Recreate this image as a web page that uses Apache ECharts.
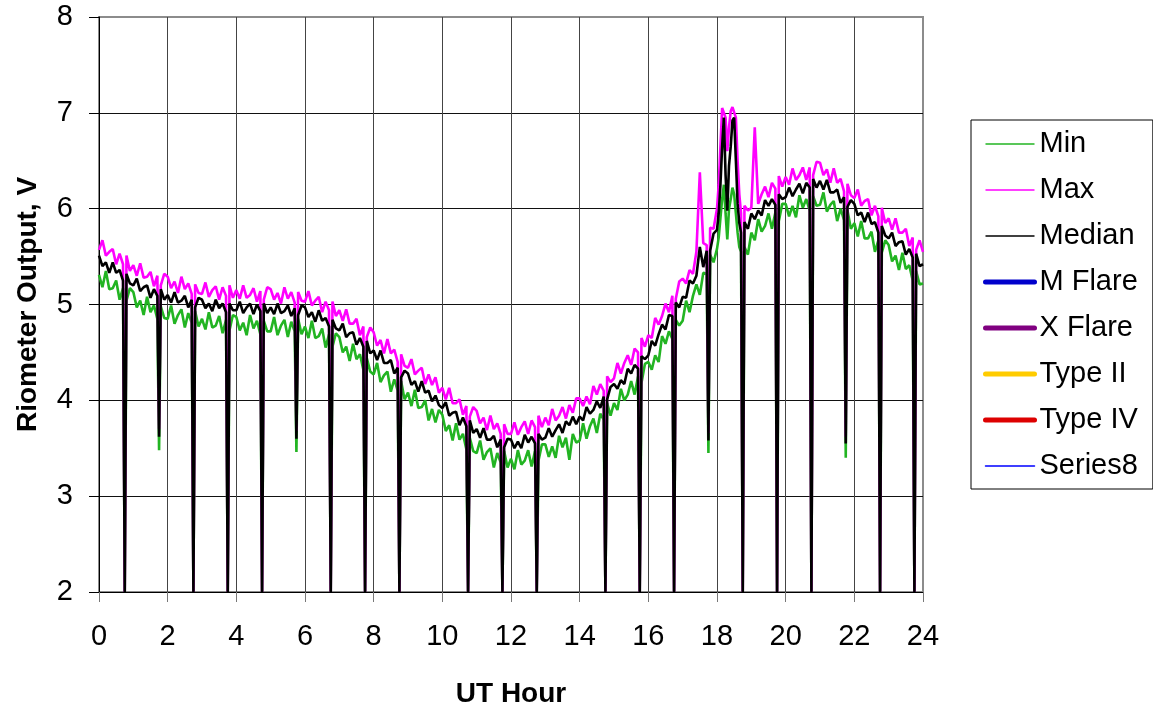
<!DOCTYPE html>
<html>
<head>
<meta charset="utf-8">
<script src="https://cdn.jsdelivr.net/npm/echarts@6/dist/echarts.min.js"></script>
<style>
html,body{margin:0;padding:0;background:#fff;}
#chart{width:1153px;height:713px;}
</style>
</head>
<body>
<div id="chart"></div>
<script>
// Regular samples every 0.1 h from 0.0 to 24.0 (241 values each)
const hourStep = 0.1;
const medianVals = [
5.51,5.40,5.44,5.33,5.44,5.33,5.36,5.25,5.32,5.22,
5.20,5.27,5.14,5.18,5.20,5.07,5.16,5.09,5.16,5.05,
5.10,5.02,5.13,5.02,5.04,5.09,4.97,5.05,4.97,5.07,
5.05,4.96,5.01,4.93,5.05,4.96,5.01,4.92,5.01,4.94,
4.94,5.03,4.91,4.97,5.01,4.90,5.00,4.93,5.01,4.91,
4.97,4.90,5.01,4.91,4.93,4.99,4.88,4.96,4.89,4.99,
4.97,4.87,4.92,4.82,4.94,4.83,4.86,4.77,4.84,4.75,
4.73,4.80,4.66,4.70,4.71,4.58,4.65,4.56,4.62,4.49,
4.52,4.42,4.52,4.39,4.39,4.42,4.28,4.34,4.24,4.31,
4.28,4.16,4.20,4.09,4.20,4.08,4.10,3.99,4.05,3.95,
3.92,3.98,3.84,3.87,3.88,3.74,3.82,3.73,3.79,3.66,
3.70,3.61,3.71,3.59,3.59,3.63,3.51,3.59,3.51,3.60,
3.59,3.50,3.57,3.50,3.64,3.56,3.62,3.55,3.65,3.59,
3.61,3.71,3.62,3.69,3.75,3.66,3.78,3.74,3.83,3.75,
3.83,3.79,3.93,3.86,3.90,3.99,3.92,4.04,4.01,4.14,
4.17,4.12,4.21,4.17,4.33,4.28,4.37,4.33,4.46,4.43,
4.47,4.62,4.57,4.69,4.79,4.74,4.89,4.88,5.02,4.97,
5.08,5.07,5.25,5.22,5.30,5.60,5.39,5.56,5.56,5.74,
5.78,6.25,6.95,5.98,6.65,6.95,6.05,5.75,5.86,5.79,
5.95,5.89,5.98,5.93,6.09,6.03,6.10,6.04,6.15,6.10,
6.12,6.22,6.13,6.20,6.26,6.16,6.27,6.22,6.31,6.22,
6.29,6.20,6.30,6.17,6.17,6.20,6.06,6.12,6.02,6.09,
6.05,5.93,5.96,5.86,5.96,5.84,5.86,5.75,5.82,5.72,
5.69,5.75,5.61,5.65,5.66,5.52,5.58,5.49,5.53,5.40,
5.42];
const maxVals = [
5.57,5.67,5.51,5.55,5.58,5.42,5.53,5.42,5.51,5.35,
5.41,5.30,5.43,5.28,5.29,5.34,5.19,5.30,5.20,5.32,
5.29,5.17,5.24,5.12,5.29,5.16,5.22,5.11,5.21,5.12,
5.11,5.23,5.08,5.15,5.19,5.05,5.18,5.09,5.20,5.07,
5.15,5.06,5.20,5.07,5.10,5.17,5.03,5.14,5.05,5.18,
5.16,5.05,5.12,5.01,5.18,5.06,5.13,5.02,5.13,5.04,
5.03,5.14,4.99,5.04,5.08,4.92,5.03,4.94,5.03,4.88,
4.94,4.83,4.95,4.80,4.80,4.85,4.68,4.77,4.66,4.76,
4.71,4.57,4.63,4.49,4.64,4.49,4.53,4.40,4.48,4.36,
4.34,4.43,4.27,4.31,4.34,4.17,4.27,4.16,4.24,4.08,
4.13,4.01,4.13,3.97,3.97,4.01,3.85,3.94,3.83,3.93,
3.89,3.76,3.82,3.69,3.84,3.70,3.76,3.65,3.75,3.65,
3.65,3.77,3.64,3.72,3.78,3.65,3.79,3.72,3.84,3.72,
3.82,3.74,3.91,3.79,3.84,3.93,3.81,3.95,3.87,4.02,
4.02,3.94,4.04,3.96,4.15,4.06,4.17,4.10,4.25,4.19,
4.23,4.39,4.28,4.39,4.47,4.37,4.54,4.50,4.65,4.56,
4.68,4.65,4.86,4.79,4.88,5.01,4.92,5.09,5.06,5.24,
5.27,5.22,5.36,5.32,5.55,6.38,5.64,5.62,5.80,5.79,
6.00,6.65,7.07,6.60,7.02,7.05,6.50,5.95,6.03,5.98,
6.01,6.85,6.05,6.15,6.23,6.12,6.27,6.21,6.34,6.23,
6.33,6.25,6.42,6.30,6.35,6.43,6.30,6.43,6.35,6.49,
6.48,6.35,6.41,6.27,6.42,6.27,6.31,6.18,6.26,6.14,
6.11,6.20,6.03,6.08,6.10,5.93,6.03,5.92,6.01,5.85,
5.90,5.78,5.90,5.75,5.75,5.79,5.61,5.70,5.57,5.67,
5.55];
const minVals = [
5.31,5.18,5.35,5.16,5.17,5.25,5.05,5.17,5.04,5.17,
5.13,4.97,5.04,4.89,5.08,4.92,4.99,4.85,4.98,4.86,
4.85,4.99,4.80,4.89,4.95,4.76,4.91,4.81,4.93,4.77,
4.85,4.74,4.92,4.76,4.78,4.88,4.70,4.84,4.73,4.89,
4.87,4.73,4.81,4.68,4.89,4.75,4.83,4.69,4.83,4.72,
4.72,4.87,4.68,4.78,4.84,4.66,4.82,4.72,4.85,4.69,
4.77,4.65,4.83,4.65,4.67,4.75,4.55,4.69,4.56,4.70,
4.66,4.50,4.56,4.41,4.59,4.43,4.48,4.32,4.44,4.30,
4.27,4.39,4.19,4.26,4.30,4.09,4.22,4.10,4.20,4.01,
4.08,3.94,4.11,3.92,3.93,4.00,3.79,3.91,3.77,3.90,
3.85,3.68,3.74,3.58,3.76,3.59,3.65,3.49,3.61,3.47,
3.45,3.58,3.38,3.46,3.50,3.30,3.45,3.35,3.47,3.30,
3.39,3.28,3.48,3.33,3.37,3.48,3.31,3.47,3.37,3.54,
3.54,3.41,3.52,3.40,3.63,3.51,3.61,3.38,3.65,3.56,
3.58,3.76,3.60,3.73,3.81,3.66,3.86,3.80,3.97,3.84,
3.97,3.90,4.12,4.00,4.06,4.20,4.06,4.25,4.18,4.38,
4.40,4.32,4.47,4.40,4.67,4.59,4.72,4.64,4.84,4.78,
4.83,5.04,4.92,5.09,5.21,5.10,5.33,5.32,5.52,5.44,
5.58,5.90,6.25,5.68,6.10,6.15,5.75,5.55,5.60,5.52,
5.75,5.67,5.89,5.76,5.82,5.95,5.79,5.96,5.87,6.05,
6.05,5.92,6.03,5.91,6.14,6.01,6.10,5.98,6.13,6.03,
6.04,6.17,5.97,6.04,6.08,5.87,6.00,5.88,5.98,5.79,
5.85,5.71,5.87,5.69,5.69,5.76,5.55,5.67,5.54,5.67,
5.62,5.45,5.51,5.36,5.54,5.37,5.41,5.25,5.35,5.21,
5.22];

// Extra samples inside the 18 UT flare
const flareHours  = [18.05,18.15,18.25,18.35,18.45,18.55,18.65];
const flareMedian = [5.95,6.65,6.35,6.45,6.92,6.50,5.85];
const flareMax    = [6.25,7.05,6.95,6.85,7.06,6.95,6.15];
const flareMin    = [5.70,6.10,5.95,6.00,6.22,5.95,5.60];

// Calibration dropouts
const dipHours  = [0.75,1.75,2.75,3.75,4.75,5.75,6.75,7.75,8.75,10.75,11.75,12.75,14.75,15.75,16.75,17.75,18.75,19.75,20.75,21.75,22.75,23.75];
const dipMin    = [2,3.48,2,2,2,3.46,2,2,2,2,2,2,2,2,2,3.45,2,2,2,3.40,2,2];
const dipMedian = [2,3.62,2,2,2,3.60,2,2,2,2,2,2,2,2,2,3.58,2,2,2,3.55,2,2];
const dipMax    = [2,3.70,2,2,2,3.68,2,2,2,2,2,2,2,2,2,3.66,2,2,2,3.62,2,2];

const xTicks = {min:0, max:24, interval:2};
const yTicks = {min:2, max:8, interval:1};

function build(vals, fVals, dVals){
  const pts = [];
  for (let i=0;i<vals.length;i++) pts.push([+(i*hourStep).toFixed(2), vals[i]]);
  for (let i=0;i<flareHours.length;i++) pts.push([flareHours[i], fVals[i]]);
  for (let i=0;i<dipHours.length;i++) pts.push([dipHours[i], dVals[i]]);
  pts.sort((a,b)=>a[0]-b[0]);
  return pts;
}

const FONT = 'Liberation Sans, Arial, sans-serif';
const chart = echarts.init(document.getElementById('chart'), null, {renderer:'canvas'});

function empty(name, color, width){
  return {name, type:'line', data:[], symbol:'none',
    lineStyle:{color, width, cap:'round'}, itemStyle:{color}};
}
const hide = {opacity:0};

chart.setOption({
  animation:false,
  backgroundColor:'#fff',
  grid:{left:99, right:230, top:17, bottom:118, show:true, borderColor:'#8c8c8c', borderWidth:2, backgroundColor:'#fff'},
  xAxis:{
    type:'value', min:xTicks.min, max:xTicks.max, interval:xTicks.interval,
    name:'UT Hour', nameLocation:'middle', nameGap:88,
    nameTextStyle:{fontFamily:FONT, fontSize:28, fontWeight:'bold', color:'#000'},
    axisLine:{show:true, onZero:false, lineStyle:{color:'#000', width:1}},
    axisTick:{show:true, length:10, lineStyle:{color:'#777', width:1}},
    axisLabel:{fontFamily:FONT, fontSize:29, color:'#000', margin:30},
    splitLine:{show:true, showMinLine:false, showMaxLine:false, lineStyle:{color:'#444', width:1}}
  },
  yAxis:{
    type:'value', min:yTicks.min, max:yTicks.max, interval:yTicks.interval,
    name:'Riometer Output, V', nameLocation:'middle', nameGap:57, nameRotate:90,
    nameTextStyle:{fontFamily:FONT, fontSize:28, fontWeight:'bold', color:'#000'},
    axisLine:{show:true, onZero:false, lineStyle:{color:'#000', width:1}},
    axisTick:{show:true, length:10, lineStyle:{color:'#000', width:1}},
    axisLabel:{fontFamily:FONT, fontSize:29, color:'#000', margin:26},
    splitLine:{show:true, showMinLine:false, showMaxLine:false, lineStyle:{color:'#111', width:1}}
  },
  legend:{
    orient:'vertical', left:971, top:120,
    backgroundColor:'#fff', borderColor:'#000', borderWidth:1,
    padding:[9,15,8,12], itemWidth:49, itemHeight:14, itemGap:16,
    itemStyle:hide,
    textStyle:{fontFamily:FONT, fontSize:29, lineHeight:30, color:'#000'},
    data:[
      {name:'Min', itemStyle:hide, lineStyle:{width:1.5}},
      {name:'Max', itemStyle:hide, lineStyle:{width:1.5}},
      {name:'Median', itemStyle:hide, lineStyle:{width:1.5}},
      {name:'M Flare', itemStyle:hide, lineStyle:{width:5, cap:'round'}},
      {name:'X Flare', itemStyle:hide, lineStyle:{width:5, cap:'round'}},
      {name:'Type II', itemStyle:hide, lineStyle:{width:5, cap:'round'}},
      {name:'Type IV', itemStyle:hide, lineStyle:{width:5, cap:'round'}},
      {name:'Series8', itemStyle:hide, lineStyle:{width:1.5}}
    ]
  },
  series:[
    {name:'Min', type:'line', symbol:'none', data:build(minVals, flareMin, dipMin),
      lineStyle:{color:'#22b422', width:2.6}, itemStyle:{color:'#22b422'}},
    {name:'Max', type:'line', symbol:'none', data:build(maxVals, flareMax, dipMax),
      lineStyle:{color:'#ff00ff', width:2.6}, itemStyle:{color:'#ff00ff'}},
    {name:'Median', type:'line', symbol:'none', data:build(medianVals, flareMedian, dipMedian),
      lineStyle:{color:'#000', width:2.6}, itemStyle:{color:'#000'}},
    empty('M Flare', '#0000cc', 5),
    empty('X Flare', '#800080', 5),
    empty('Type II', '#ffcc00', 5),
    empty('Type IV', '#dd0000', 5),
    empty('Series8', '#0000ff', 1.5)
  ]
});
</script>
</body>
</html>
